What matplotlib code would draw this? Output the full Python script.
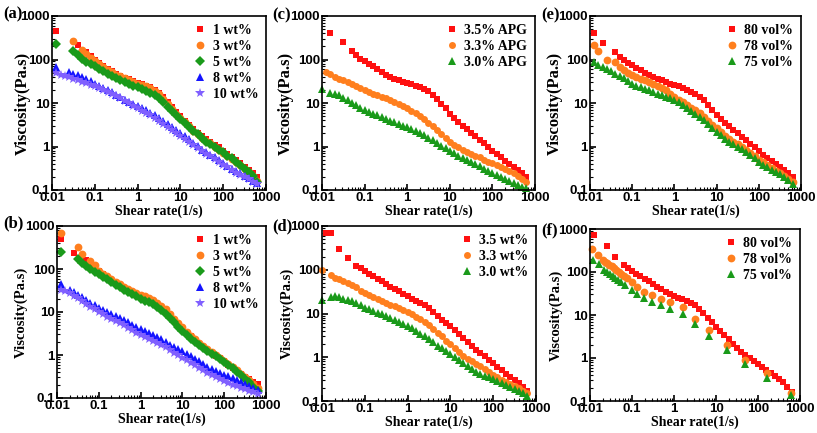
import matplotlib.pyplot as plt
import numpy as np

nan = float('nan')

# shear rate grid (1/s), ~10 points per decade
shear = [0.01, 0.0126, 0.0158, 0.02, 0.0251, 0.0316, 0.0398, 0.0501, 0.0631, 0.0794,
         0.1, 0.126, 0.158, 0.2, 0.251, 0.316, 0.398, 0.501, 0.631, 0.794,
         1, 1.26, 1.58, 2, 2.51, 3.16, 3.98, 5.01, 6.31, 7.94,
         10, 12.6, 15.8, 20, 25.1, 31.6, 39.8, 50.1, 63.1, 79.4,
         100, 126, 158, 200, 251, 316, 398, 501, 631]

# (a)
a_1wt = [nan, 460, nan, nan, nan, nan, 215, nan, 145, 120,
         97, 83, 71, 61, 53, 47, 42, 38, 35, 32,
         29, 27, 25, 23, 20, 17, 13.5, 10.3, 8, 6.2,
         4.9, 3.9, 3.1, 2.5, 2.05, 1.7, 1.45, 1.27, 1.1, 0.95,
         0.8, 0.68, 0.58, 0.49, 0.41, 0.34, 0.29, 0.24, 0.2]
a_3wt = [nan, nan, nan, nan, nan, 270, nan, 165, 135, 110,
         90, 78, 67, 58, 51, 45, 41, 37, 34, 31,
         28, 26, 24, 22, 19, 16, 12.5, 9.5, 7.3, 5.7,
         4.5, 3.6, 2.9, 2.3, 1.9, 1.55, 1.35, 1.18, 1.0, 0.85,
         0.72, 0.61, 0.52, 0.44, 0.37, 0.31, 0.26, 0.21, 0.16]
a_5wt = [nan, 223, nan, nan, nan, 157, 125, 105, 88, 78,
         70, 61, 53, 47, 42, 37, 33, 30, 27, 25,
         23, 21, 19, 17, 15, 13, 10.5, 8.2, 6.4, 5.2,
         4.3, 3.5, 2.8, 2.3, 1.9, 1.55, 1.3, 1.13, 0.98, 0.85,
         0.73, 0.62, 0.53, 0.45, 0.38, 0.31, 0.26, 0.21, 0.155]
a_8wt = [nan, 68, nan, nan, 52, 47, 43, 39, 35, 31.5,
         28, 25, 22, 19.5, 17.5, 15.5, 13.5, 12, 10.7, 9.5,
         8.5, 7.6, 6.8, 6.0, 5.3, 4.6, 3.9, 3.3, 2.8, 2.35,
         2.0, 1.7, 1.45, 1.22, 1.02, 0.85, 0.73, 0.64, 0.56, 0.48,
         0.42, 0.36, 0.31, 0.27, 0.24, 0.21, 0.185, 0.165, 0.148]
a_10wt = [nan, 48, 45, 42, 39, 36, 33, 31, 28.5, 26,
          24, 22, 20, 18, 16.3, 14.7, 13.2, 11.3, 10, 8.7,
          7.6, 6.7, 5.9, 5.2, 4.5, 3.9, 3.3, 2.8, 2.35, 2.0,
          1.7, 1.45, 1.25, 1.07, 0.92, 0.79, 0.68, 0.59, 0.51, 0.44,
          0.38, 0.33, 0.29, 0.25, 0.22, 0.195, 0.175, 0.155, 0.14]

# (b)
b_1wt = [nan, 507, nan, nan, 240, nan, nan, 160, 135, 110,
         88, 75, 64, 55, 47, 41, 36, 32, 29, 26,
         23, 21, 19.5, 17.5, 15, 12.8, 10.5, 8.3, 6.5, 5.1,
         4.1, 3.3, 2.7, 2.2, 1.85, 1.55, 1.32, 1.13, 0.97, 0.83,
         0.71, 0.6, 0.51, 0.43, 0.37, 0.31, 0.27, 0.23, 0.21]
b_3wt = [nan, 675, nan, nan, nan, 330, 220, nan, 155, 125,
         92, 78, 67, 58, 50, 44, 39, 35, 31, 28,
         25, 23, 21, 19, 16.5, 14, 11.5, 9, 7, 5.5,
         4.4, 3.5, 2.8, 2.3, 1.9, 1.6, 1.35, 1.15, 0.98, 0.84,
         0.72, 0.61, 0.52, 0.44, 0.37, 0.31, 0.26, 0.21, 0.17]
b_5wt = [nan, 250, nan, nan, nan, 167, 138, 115, 100, 87,
         76, 66, 57, 50, 43, 38, 33, 29, 26, 23,
         20, 18.5, 17, 15, 13, 11, 9, 7.2, 5.7, 4.5,
         3.6, 2.9, 2.4, 2.0, 1.7, 1.45, 1.25, 1.08, 0.93, 0.8,
         0.68, 0.58, 0.49, 0.41, 0.34, 0.28, 0.23, 0.185, 0.145]
b_8wt = [nan, 46, nan, 33, 29, 25.5, 22, 19, 16.5, 14.3,
         12.5, 11, 9.8, 8.8, 7.9, 7.1, 6.4, 5.7, 5.0, 4.5,
         4.0, 3.6, 3.2, 2.9, 2.6, 2.3, 2.0, 1.75, 1.55, 1.37,
         1.21, 1.06, 0.93, 0.81, 0.71, 0.62, 0.54, 0.48, 0.43, 0.39,
         0.35, 0.32, 0.29, 0.26, 0.235, 0.21, 0.19, 0.17, 0.15]
b_10wt = [nan, 33, 30, 27, 24, 21, 18, 15.5, 13.3, 11.5,
          10, 8.8, 7.8, 7.0, 6.2, 5.5, 4.9, 4.3, 3.8, 3.3,
          2.9, 2.6, 2.35, 2.1, 1.9, 1.7, 1.5, 1.3, 1.13, 0.98,
          0.86, 0.75, 0.65, 0.57, 0.5, 0.44, 0.39, 0.345, 0.31, 0.28,
          0.25, 0.225, 0.205, 0.19, 0.175, 0.16, 0.145, 0.135, 0.125]

# (c)
c_35 = [nan, nan, 405, nan, nan, 250, nan, 157, 125, 105,
        92, 80, 70, 60, 52, 45, 40, 36, 33, 31,
        29, 27, 25, 23, 21, 18.5, 15.5, 12.5, 9.7, 7.5,
        5.7, 4.5, 3.6, 3.0, 2.5, 2.05, 1.7, 1.42, 1.18, 0.98,
        0.8, 0.67, 0.56, 0.47, 0.4, 0.34, 0.29, 0.24, 0.2]
c_33 = [nan, 52, 47, 40, 36, 33, 30, 27, 24.5, 22,
        20, 18, 16.5, 15, 13.8, 12.7, 11.6, 10.5, 9.5, 8.5,
        7.5, 6.6, 5.8, 5.0, 4.2, 3.5, 2.9, 2.35, 1.9, 1.55,
        1.3, 1.1, 0.95, 0.85, 0.76, 0.69, 0.62, 0.56, 0.5, 0.45,
        0.41, 0.37, 0.33, 0.3, 0.27, 0.24, 0.21, 0.18, 0.15]
c_30 = [21, nan, 17, 16.5, 15, 13, 11.5, 10, 9, 7.8,
        7, 6.3, 5.7, 5.2, 4.7, 4.3, 3.9, 3.6, 3.3, 3.0,
        2.8, 2.5, 2.3, 2.0, 1.8, 1.6, 1.4, 1.2, 1.05, 0.92,
        0.8, 0.7, 0.62, 0.55, 0.49, 0.44, 0.39, 0.35, 0.31, 0.28,
        0.25, 0.225, 0.2, 0.18, 0.16, 0.145, 0.13, 0.12, 0.11]

# (d)
d_35 = [nan, 680, 680, nan, 295, nan, 187, nan, 125, 110,
        95, 82, 71, 62, 54, 47, 41, 36, 32, 28,
        25, 22, 19.5, 17.5, 15.5, 13.5, 11, 8.8, 7, 6,
        5.2, 4.2, 3.4, 2.8, 2.2, 1.8, 1.5, 1.25, 1.05, 0.88,
        0.72, 0.6, 0.5, 0.42, 0.36, 0.31, 0.26, 0.21, 0.165]
d_33 = [98, nan, 74, 66, 60, 55, 50, 46, 40, 33,
        29, 26, 23.5, 21.5, 19.5, 17.5, 16, 15, 13.5, 12,
        11, 9.5, 8.5, 7.5, 6.5, 5.5, 4.5, 3.6, 3.0, 2.4,
        2.0, 1.6, 1.3, 1.05, 0.9, 0.8, 0.7, 0.62, 0.55, 0.47,
        0.4, 0.35, 0.31, 0.27, 0.24, 0.22, 0.2, 0.17, 0.15]
d_30 = [20.5, nan, 23.6, 25.6, 24, 22, 20.5, 19, 17.5, 15.5,
        13.5, 12.5, 11.5, 10.5, 9.6, 8.7, 7.9, 7.1, 6.4, 5.8,
        5.3, 4.6, 4.0, 3.4, 3.0, 2.6, 2.2, 1.85, 1.6, 1.38,
        1.2, 1.0, 0.85, 0.72, 0.62, 0.53, 0.47, 0.42, 0.38, 0.35,
        0.32, 0.29, 0.26, 0.235, 0.21, 0.19, 0.17, 0.15, 0.13]

# (e)
e_80 = [nan, 400, nan, 244, nan, nan, 150, 115, 100, 85,
        75, 65, 57, 50, 45, 40, 36, 33, 30, 28,
        26, 24, 22, 20, 18, 16.5, 14, 11.7, 9, 7,
        5.3, 4.2, 3.4, 2.9, 2.4, 2.0, 1.65, 1.38, 1.15, 0.95,
        0.78, 0.65, 0.55, 0.46, 0.39, 0.34, 0.29, 0.24, 0.2]
e_78 = [nan, 215, 157, nan, 100, nan, 86, 68, 58, 50,
        44, 40, 36, 33, 30, 28, 25, 22, 19.5, 16.5,
        14, 12, 10.3, 8.8, 7.8, 7.0, 5.8, 4.8, 3.9, 3.2,
        2.6, 2.1, 1.75, 1.5, 1.3, 1.15, 0.98, 0.85, 0.72, 0.6,
        0.5, 0.43, 0.37, 0.32, 0.28, 0.25, 0.21, 0.18, 0.155]
e_75 = [nan, 89, 76, 66, 59, 53, 47, 42, 37, 32,
        28, 25, 23, 21, 19.5, 18, 16.5, 15, 13.8, 12.7,
        11.7, 10.3, 9, 7.7, 6.6, 5.7, 4.8, 4.0, 3.3, 2.7,
        2.2, 1.8, 1.5, 1.28, 1.12, 1.0, 0.86, 0.74, 0.63, 0.53,
        0.45, 0.38, 0.33, 0.29, 0.26, 0.23, 0.2, 0.17, 0.14]

# (f)
f_80 = [nan, 720, nan, nan, 410, nan, 220, nan, 146, 123,
        105, 92, 80, 70, 61, 52, 45, 40, 35, 31,
        28, 25.5, 23, 21, 19, 16.7, 14, 11, 8.5, 6.7,
        5.3, 4.2, 3.4, 2.7, 2.1, 1.7, 1.4, 1.15, 1.0, 0.86,
        0.74, 0.63, 0.54, 0.46, 0.39, 0.33, 0.27, 0.21, 0.16]
f_78_x = [0.011, 0.0155, 0.02, 0.023, 0.026, 0.029, 0.033, 0.037, 0.042, 0.048,
          0.055, 0.065, 0.078, 0.1, 0.135, 0.19, 0.3, 0.48, 0.8, 1.6,
          3.2, 7.0, 18, 50, 160, 600]
f_78 = [340, 250, 190, 175, 160, 145, 135, 125, 113, 100,
        90, 80, 72, 60, 45, 35, 29, 24, 20, 15,
        8.2, 4.5, 2.0, 0.92, 0.45, 0.15]
f_75_x = [0.012, 0.016, 0.022, 0.026, 0.03, 0.035, 0.04, 0.047, 0.055, 0.07,
          0.1, 0.135, 0.19, 0.3, 0.48, 0.8, 1.6, 3.2, 7.0, 18,
          50, 160, 600]
f_75 = [190, 150, 110, 100, 90, 82, 74, 66, 58, 50,
        38, 31, 25, 20, 17, 14, 10.5, 6.2, 3.2, 1.55,
        0.72, 0.35, 0.14]

RED = '#ff1010'
ORANGE = '#ff7f1e'
GREEN = '#1a9a1a'
BLUE = '#1414ff'
PURPLE = '#8060ff'

plt.rcParams['font.family'] = 'Liberation Serif'
plt.rcParams['font.weight'] = 'bold'

fig = plt.figure(figsize=(8.17, 4.33), dpi=100)
W, H = 817, 433


def box(l, r, t, b):
    return [l / W, 1 - b / H, (r - l) / W, (b - t) / H]


def style(ax, ylab_x, ylab_size):
    ax.set_xscale('log')
    ax.set_yscale('log')
    ax.set_xlim(0.01, 1000)
    ax.set_ylim(0.1, 1000)
    ax.set_xticks([0.01, 0.1, 1, 10, 100, 1000])
    ax.set_xticklabels(['0.01', '0.1', '1', '10', '100', '1000'])
    ax.set_yticks([0.1, 1, 10, 100, 1000])
    ax.set_yticklabels(['0.1', '1', '10', '100', '1000'])
    ax.tick_params(which='both', direction='in', top=False, right=False)
    ax.tick_params(which='major', length=4, width=1.2, pad=1.5)
    ax.tick_params(which='minor', length=2, width=0.8)
    for lab in ax.get_xticklabels() + ax.get_yticklabels():
        lab.set_family('Liberation Sans')
        lab.set_fontweight('bold')
        lab.set_fontsize(9.5)
    for s in ax.spines.values():
        s.set_linewidth(1.2)
    ax.set_xlabel('Shear rate(1/s)', fontsize=10, fontweight='bold', labelpad=0)
    ax.set_ylabel('Viscosity(Pa.s)', fontsize=ylab_size, fontweight='bold')
    ax.yaxis.set_label_coords(ylab_x, 0.5)


def pts(ax, x, y, marker, color, label, ms):
    ax.plot(x, y, linestyle='none', marker=marker, color=color, ms=ms,
            markeredgewidth=0, label=label, clip_on=False)


def legend(ax):
    ax.legend(loc='upper right', frameon=False, handletextpad=0.3,
              labelspacing=0.22, borderaxespad=0.15, handlelength=1.2,
              prop={'family': 'Liberation Serif', 'weight': 'bold', 'size': 10})


SQ, CI, DI, TR, ST = 5, 5.6, 4.8, 6, 7.5

axa = fig.add_axes(box(52, 266, 16, 190))
pts(axa, shear, a_1wt, 's', RED, '1 wt%', SQ)
pts(axa, shear, a_3wt, 'o', ORANGE, '3 wt%', CI)
pts(axa, shear, a_5wt, 'D', GREEN, '5 wt%', DI)
pts(axa, shear, a_8wt, '^', BLUE, '8 wt%', TR)
pts(axa, shear, a_10wt, '*', PURPLE, '10 wt%', ST)
style(axa, -0.10, 12)
legend(axa)

axb = fig.add_axes(box(57, 266, 226, 398))
pts(axb, shear, b_1wt, 's', RED, '1 wt%', SQ)
pts(axb, shear, b_3wt, 'o', ORANGE, '3 wt%', CI)
pts(axb, shear, b_5wt, 'D', GREEN, '5 wt%', DI)
pts(axb, shear, b_8wt, '^', BLUE, '8 wt%', TR)
pts(axb, shear, b_10wt, '*', PURPLE, '10 wt%', ST)
style(axb, -0.14, 10.5)
legend(axb)

axc = fig.add_axes(box(322, 535, 16, 190))
pts(axc, shear, c_35, 's', RED, '3.5% APG', SQ)
pts(axc, shear, c_33, 'o', ORANGE, '3.3% APG', 5)
pts(axc, shear, c_30, '^', GREEN, '3.0% APG', TR)
style(axc, -0.13, 12)
legend(axc)

axd = fig.add_axes(box(322, 536, 226, 401))
pts(axd, shear, d_35, 's', RED, '3.5 wt%', SQ)
pts(axd, shear, d_33, 'o', ORANGE, '3.3 wt%', 5)
pts(axd, shear, d_30, '^', GREEN, '3.0 wt%', TR)
style(axd, -0.13, 10.5)
legend(axd)

axe = fig.add_axes(box(590, 801, 16, 190))
pts(axe, shear, e_80, 's', RED, '80 vol%', SQ)
pts(axe, shear, e_78, 'o', ORANGE, '78 vol%', CI)
pts(axe, shear, e_75, '^', GREEN, '75 vol%', TR)
style(axe, -0.13, 12)
legend(axe)

axf = fig.add_axes(box(590, 800, 229, 401))
pts(axf, shear, f_80, 's', RED, '80 vol%', SQ)
pts(axf, f_78_x, f_78, 'o', ORANGE, '78 vol%', CI)
pts(axf, f_75_x, f_75, '^', GREEN, '75 vol%', TR)
style(axf, -0.13, 10.5)
legend(axf)

for txt, x, y in [('(a)', 13, 14), ('(c)', 282, 15), ('(e)', 550, 15),
                  ('(b)', 13, 223), ('(d)', 282, 226), ('(f)', 550, 230)]:
    fig.text(x / W, 1 - y / H, txt, ha='center', va='center', fontsize=12,
             fontweight='bold', family='Liberation Serif')

fig.savefig('out.png', dpi=100)
